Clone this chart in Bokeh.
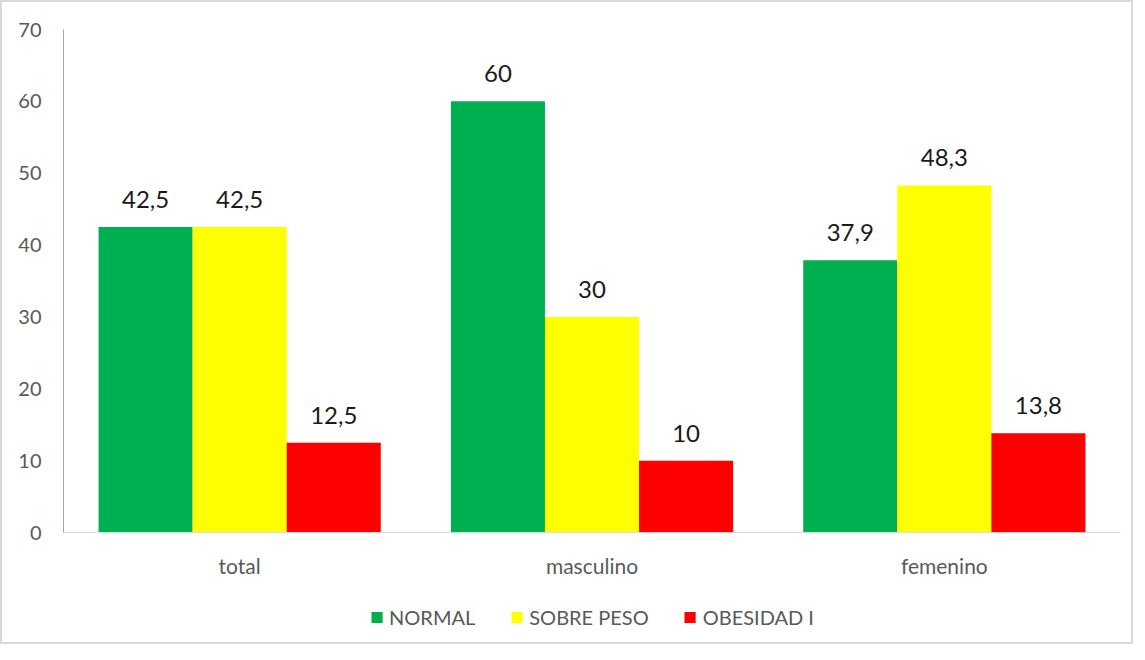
from bokeh.plotting import figure
from bokeh.layouts import column
from bokeh.models import ColumnDataSource, Legend, LegendItem, FixedTicker, FactorRange
from bokeh.transform import dodge
from bokeh.core.properties import value
from bokeh.embed import file_html
from bokeh.resources import INLINE

categories = ["total", "masculino", "femenino"]
series = ["NORMAL", "SOBRE PESO", "OBESIDAD I"]
normal = [42.5, 60, 37.9]
sobre_peso = [42.5, 30, 48.3]
obesidad = [12.5, 10, 13.8]
colors = ["#00B050", "#FFFF00", "#FF0000"]
y_ticks = [0, 10, 20, 30, 40, 50, 60, 70]

FONT = "Lato"

def fmt(v):
    s = ("%g" % v)
    return s.replace(".", ",")

src = ColumnDataSource(data=dict(
    cat=categories,
    normal=normal, sobre=sobre_peso, obes=obesidad,
    normal_l=[fmt(v) for v in normal],
    sobre_l=[fmt(v) for v in sobre_peso],
    obes_l=[fmt(v) for v in obesidad],
))

p = figure(x_range=FactorRange(*categories, range_padding=0), y_range=(0, 70),
           width=1129, height=590, output_backend="svg", toolbar_location=None,
           min_border_left=61, min_border_top=27, min_border_right=11, min_border_bottom=60)
p.outline_line_color = None
p.xgrid.grid_line_color = None
p.ygrid.grid_line_color = None

w = 0.267
cols = ["normal", "sobre", "obes"]
offsets = [-w, 0, w]
renderers = []
for c, off, col in zip(cols, offsets, colors):
    r = p.vbar(x=dodge("cat", off, range=p.x_range), top=c, width=w, source=src,
               fill_color=col, line_color=None)
    renderers.append(r)
    p.text(x=dodge("cat", off, range=p.x_range), y=c, text=c + "_l", source=src,
           text_align="center", text_baseline="bottom", y_offset=-19,
           text_font=value(FONT), text_font_size="24px", text_color="#1a1a1a")

p.yaxis.ticker = FixedTicker(ticks=y_ticks)
p.yaxis.axis_line_color = "#a6a6a6"
p.yaxis.major_tick_line_color = None
p.yaxis.minor_tick_line_color = None
p.yaxis.major_label_standoff = 16
p.yaxis.major_label_text_font = FONT
p.yaxis.major_label_text_font_size = "20px"
p.yaxis.major_label_text_color = "#595959"

p.xaxis.axis_line_color = "#d9d9d9"
p.xaxis.major_tick_line_color = None
p.xaxis.minor_tick_line_color = None
p.xaxis.major_label_standoff = 14
p.xaxis.major_label_text_font = FONT
p.xaxis.major_label_text_font_size = "21px"
p.xaxis.major_label_text_color = "#595959"

# legend in its own strip below the chart
lg = figure(width=1129, height=50, output_backend="svg", toolbar_location=None,
            x_axis_type=None, y_axis_type=None, x_range=(0, 1), y_range=(0, 1),
            min_border=0, background_fill_color="white", border_fill_color="white")
lg.outline_line_color = None
lg.xgrid.grid_line_color = None
lg.ygrid.grid_line_color = None
keys = []
for col in colors:
    d = lg.vbar(x=[0.5], top=[0], bottom=[0], width=0.0, fill_color=col, line_color=None)
    keys.append(d)

legend = Legend(items=[LegendItem(label=s, renderers=[r]) for s, r in zip(series, keys)],
                orientation="horizontal", location="center",
                border_line_color=None, background_fill_alpha=0,
                glyph_width=14, glyph_height=14, label_standoff=6, spacing=34,
                label_text_font=FONT, label_text_font_size="20px", label_text_color="#595959",
                margin=0, padding=4)
lg.add_layout(legend, "center")

layout = column(p, lg, spacing=0)
layout.styles = {"border": "2px solid #d9d9d9"}

open("out.html", "w").write(file_html(layout, INLINE))
